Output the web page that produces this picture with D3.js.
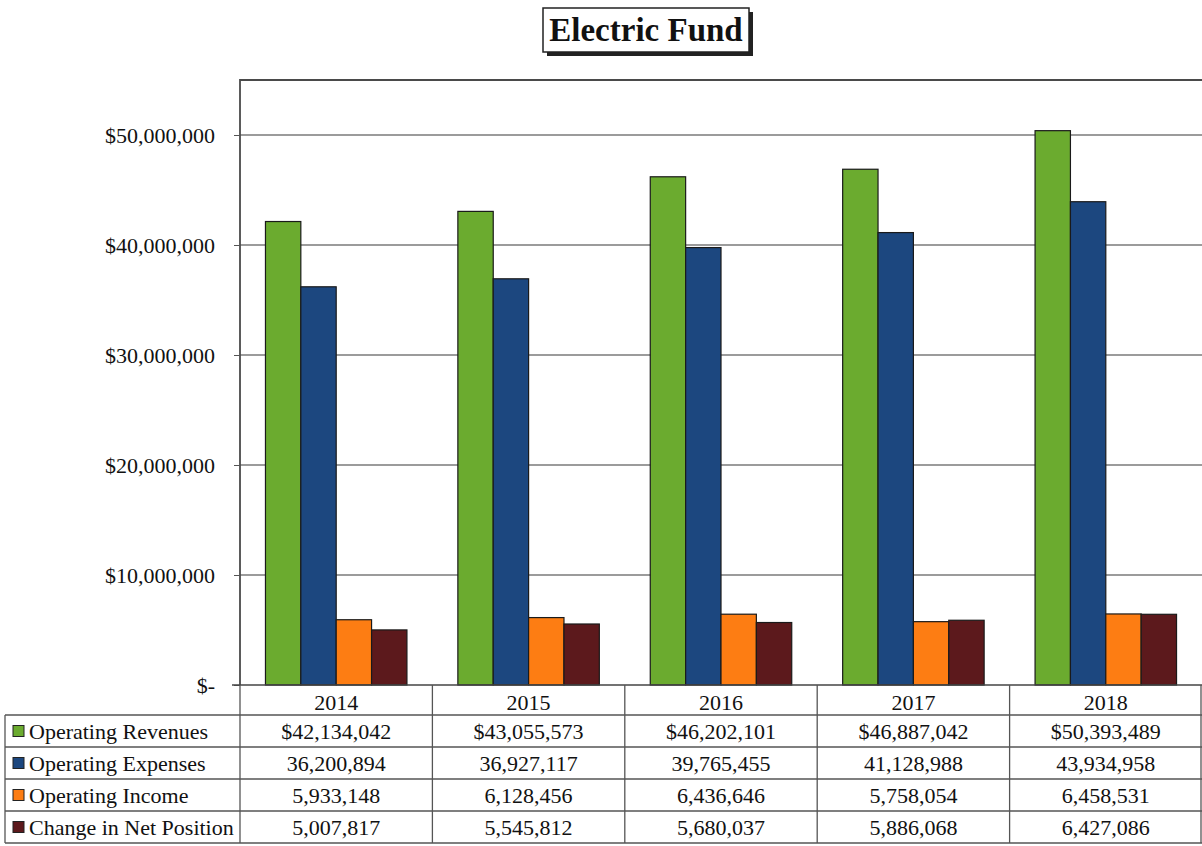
<!DOCTYPE html>
<html>
<head>
<meta charset="utf-8">
<script src="https://cdn.jsdelivr.net/npm/d3@7/dist/d3.min.js"></script>
<style>
  html, body { margin: 0; padding: 0; background: #fff; }
  svg { display: block; }
  text { font-family: "Liberation Serif", "Times New Roman", serif; fill: #111; }
</style>
</head>
<body>
<svg id="chart" width="1202" height="846"></svg>
<script>
// Fiscal years and fund figures
const years = ["2014", "2015", "2016", "2017", "2018"];
const seriesNames = ["Operating Revenues", "Operating Expenses", "Operating Income", "Change in Net Position"];
const operatingRevenues = [42134042, 43055573, 46202101, 46887042, 50393489];
const operatingExpenses = [36200894, 36927117, 39765455, 41128988, 43934958];
const operatingIncome = [5933148, 6128456, 6436646, 5758054, 6458531];
const changeInNetPosition = [5007817, 5545812, 5680037, 5886068, 6427086];
const yTicks = [0, 10000000, 20000000, 30000000, 40000000, 50000000];
const seriesColors = ["#6bab2f", "#1c477f", "#fd7d13", "#5c191c"];

const seriesValues = [operatingRevenues, operatingExpenses, operatingIncome, changeInNetPosition];

const svg = d3.select("#chart");
const plot = { left: 240, right: 1202, top: 80, bottom: 685 };
const FS = "22px";

const x = d3.scaleBand().domain(years).range([plot.left, plot.right]).paddingInner(0).paddingOuter(0);
const inner = d3.scaleBand().domain(d3.range(seriesNames.length))
  .range([0, x.bandwidth()]).paddingInner(0).paddingOuter(0.72);
const y = d3.scaleLinear().domain([0, 55000000]).range([plot.bottom, plot.top]);

// Gridlines
svg.append("g").selectAll("line").data(yTicks.filter(d => d > 0)).join("line")
  .attr("x1", plot.left).attr("x2", plot.right)
  .attr("y1", d => y(d)).attr("y2", d => y(d))
  .attr("stroke", "#7a7a7a").attr("stroke-width", 1.4);

// Plot frame (left and top edges)
svg.append("path")
  .attr("d", `M${plot.left},${plot.bottom}V${plot.top}H${plot.right}`)
  .attr("fill", "none").attr("stroke", "#4a4a4a").attr("stroke-width", 1.8);

// Y axis
const fmtTick = d => d === 0 ? "$-" : "$" + d3.format(",")(d);
const yAxis = d3.axisLeft(y).tickValues(yTicks).tickFormat(fmtTick).tickSize(6).tickPadding(19);
const gy = svg.append("g").attr("transform", `translate(${plot.left},0)`).call(yAxis);
gy.select(".domain").remove();
gy.selectAll(".tick line").attr("stroke", "#555");
gy.selectAll(".tick text").style("font-size", FS).attr("fill", "#111")
  .style("font-family", '"Liberation Serif", serif');

// Bars
const groups = svg.append("g").selectAll("g").data(years).join("g")
  .attr("transform", d => `translate(${x(d)},0)`);
groups.selectAll("rect")
  .data((yr, i) => seriesValues.map((vals, s) => ({ s, v: vals[i] })))
  .join("rect")
  .attr("x", d => inner(d.s))
  .attr("width", inner.bandwidth())
  .attr("y", d => y(d.v))
  .attr("height", d => y(0) - y(d.v))
  .attr("fill", d => seriesColors[d.s])
  .attr("stroke", "#1a1a1a").attr("stroke-width", 1.2);

// Baseline
svg.append("line").attr("x1", plot.left - 8).attr("x2", plot.right)
  .attr("y1", plot.bottom).attr("y2", plot.bottom)
  .attr("stroke", "#444").attr("stroke-width", 1.5);

// Data table below the plot
const rowTop = plot.bottom, headerH = 30, rowH = 32;
const tableLeft = 5;
const lineColor = "#555";
const table = svg.append("g");

// Year header row
table.selectAll("text.year").data(years).join("text")
  .attr("class", "year")
  .attr("x", d => x(d) + x.bandwidth() / 2)
  .attr("y", rowTop + headerH / 2 + 10)
  .attr("text-anchor", "middle").style("font-size", FS).text(d => d);

// Horizontal rules
const rowYs = d3.range(seriesNames.length + 1).map(i => rowTop + headerH + i * rowH);
table.selectAll("line.h").data(rowYs).join("line")
  .attr("x1", tableLeft).attr("x2", plot.right)
  .attr("y1", d => d).attr("y2", d => d)
  .attr("stroke", lineColor).attr("stroke-width", 1.3);

// Vertical rules
const colXs = years.map(d => x(d)).concat([plot.right - 1]);
table.selectAll("line.v").data(colXs).join("line")
  .attr("x1", d => d).attr("x2", d => d)
  .attr("y1", rowTop).attr("y2", rowYs[rowYs.length - 1])
  .attr("stroke", lineColor).attr("stroke-width", 1.3);
table.append("line")
  .attr("x1", tableLeft).attr("x2", tableLeft)
  .attr("y1", rowYs[0]).attr("y2", rowYs[rowYs.length - 1])
  .attr("stroke", lineColor).attr("stroke-width", 1.3);

// Legend keys and series names
seriesNames.forEach((name, s) => {
  const cy = rowYs[s] + rowH / 2;
  table.append("rect")
    .attr("x", 13).attr("y", cy - 5.5).attr("width", 11).attr("height", 11)
    .attr("fill", seriesColors[s]).attr("stroke", "#222").attr("stroke-width", 1);
  table.append("text")
    .attr("x", 29).attr("y", cy + 8).style("font-size", FS).text(name);
  years.forEach((yr, i) => {
    const v = seriesValues[s][i];
    table.append("text")
      .attr("x", x(yr) + x.bandwidth() / 2).attr("y", cy + 8)
      .attr("text-anchor", "middle").style("font-size", FS)
      .text((s === 0 ? "$" : "") + d3.format(",")(v));
  });
});

// Title box with drop shadow
const title = { x: 543, y: 8, w: 206, h: 44 };
svg.append("rect").attr("x", title.x + 4).attr("y", title.y + 4)
  .attr("width", title.w).attr("height", title.h).attr("fill", "#222");
svg.append("rect").attr("x", title.x).attr("y", title.y)
  .attr("width", title.w).attr("height", title.h)
  .attr("fill", "#fff").attr("stroke", "#222").attr("stroke-width", 1.5);
svg.append("text").attr("x", title.x + title.w / 2).attr("y", title.y + 33)
  .attr("text-anchor", "middle").style("font-size", "33px").style("font-weight", "bold")
  .text("Electric Fund");
</script>
</body>
</html>
